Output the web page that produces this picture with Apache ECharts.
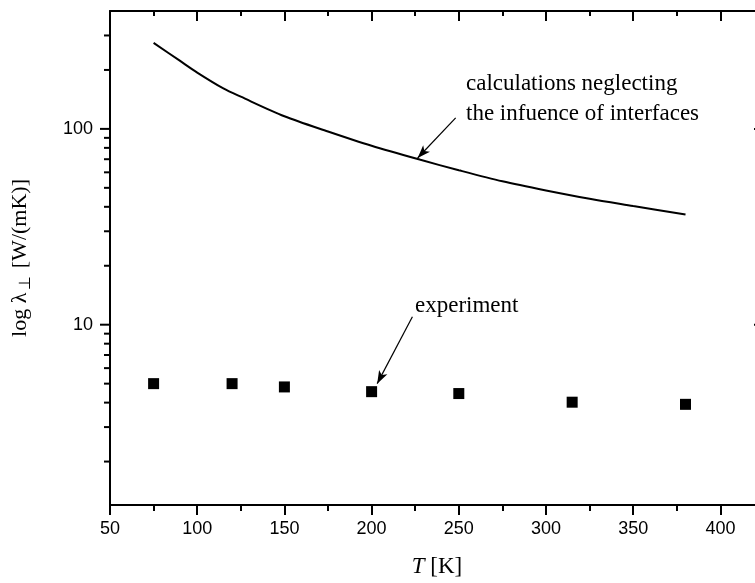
<!DOCTYPE html>
<html>
<head>
<meta charset="utf-8">
<script src="https://cdn.jsdelivr.net/npm/echarts@6/dist/echarts.min.js"></script>
<style>html,body{margin:0;padding:0;background:#fff}#c{width:755px;height:583px}</style>
</head>
<body>
<div id="c"></div>
<script>
// ---- data ----
const calcT   = [75, 90, 100, 115, 125, 150, 175, 200, 228, 250, 275, 300, 325, 350, 380];
const calcVal = [275, 223, 194, 161, 146, 116, 97, 82, 69.5, 61.5, 54, 48.5, 44, 40.4, 36.5];
const expT    = [75, 120, 150, 200, 250, 315, 380];
const expVal  = [5.0, 5.0, 4.81, 4.55, 4.45, 4.02, 3.92];
const xTicks  = [50, 100, 150, 200, 250, 300, 350, 400];
const yMajorTicks = [10, 100];
const yMinorTicks = [2, 3, 4, 5, 6, 7, 8, 9, 20, 30, 40, 50, 60, 70, 80, 90, 200, 300];
const X_MIN = 50, X_MAX = 425, Y_MIN = 1.2, Y_MAX = 400;

const chart = echarts.init(document.getElementById('c'));
const serif = 'Liberation Serif';
const sans = 'Liberation Sans';
const axisLine = {show: true, lineStyle: {color: '#000', width: 2}};

const tickData = yMajorTicks.map(v => [X_MIN, v, 1]).concat(yMinorTicks.map(v => [X_MIN, v, 0]));

chart.setOption({
  animation: false,
  backgroundColor: '#fff',
  grid: {left: 110, width: 654, top: 11, height: 494, show: false, containLabel: false, outerBoundsMode: 'none'},
  xAxis: [{
    type: 'value', min: X_MIN, max: X_MAX, interval: 50, position: 'bottom',
    axisLine: axisLine, splitLine: {show: false},
    axisTick: {show: true, inside: false, length: 10, lineStyle: {color: '#000', width: 2}},
    minorTick: {show: true, splitNumber: 2, length: 6, lineStyle: {color: '#000', width: 2}},
    axisLabel: {color: '#000', fontFamily: sans, fontSize: 18, margin: 15, showMaxLabel: false,
      formatter: v => xTicks.indexOf(v) >= 0 ? String(v) : ''},
    name: '{i|T} [K]', nameLocation: 'middle', nameGap: 50,
    nameTextStyle: {color: '#000', fontFamily: serif, fontSize: 23,
      rich: {i: {fontFamily: serif, fontSize: 23, fontStyle: 'italic', color: '#000'}}}
  }, {
    type: 'value', min: X_MIN, max: X_MAX, interval: 50, position: 'top',
    axisLine: axisLine, splitLine: {show: false},
    axisTick: {show: true, inside: true, length: 10, lineStyle: {color: '#000', width: 2}},
    minorTick: {show: true, splitNumber: 2, length: 5, lineStyle: {color: '#000', width: 2}},
    axisLabel: {show: false}
  }],
  yAxis: [{
    type: 'log', logBase: 10, min: Y_MIN, max: Y_MAX, position: 'left',
    axisLine: axisLine, splitLine: {show: false},
    axisTick: {show: false},
    axisLabel: {color: '#000', fontFamily: sans, fontSize: 18, margin: 17,
      formatter: v => yMajorTicks.indexOf(Math.round(v)) >= 0 && Math.abs(v - Math.round(v)) < 1e-6 ? String(Math.round(v)) : ''},
    name: '{a|log λ}{s|⊥}{a| [W/(mK)]}', nameLocation: 'middle', nameGap: 76,
    nameTextStyle: {color: '#000', fontFamily: serif, fontSize: 22,
      rich: {
        a: {fontFamily: serif, fontSize: 22, color: '#000'},
        s: {fontFamily: serif, fontSize: 16, color: '#000', padding: [11, 2, 0, 3]}
      }}
  }, {
    type: 'log', logBase: 10, min: Y_MIN, max: Y_MAX, position: 'right',
    axisLine: axisLine, splitLine: {show: false},
    axisTick: {show: false}, axisLabel: {show: false}
  }],
  series: [{
    type: 'line', xAxisIndex: 0, yAxisIndex: 0,
    data: calcT.map((t, i) => [t, calcVal[i]]),
    smooth: 0.3, showSymbol: false, symbol: 'none',
    lineStyle: {color: '#000', width: 2}, z: 3,
    markLine: {
      silent: true, symbol: ['none', 'arrow'], symbolSize: [7, 13],
      lineStyle: {color: '#000', width: 1.2, type: 'solid'}, label: {show: false},
      data: [
        [{coord: [248.2, 113.8]}, {coord: [226.4, 71]}],
        [{coord: [223.4, 10.99]}, {coord: [203.2, 5.0]}]
      ]
    }
  }, {
    type: 'scatter', xAxisIndex: 0, yAxisIndex: 0,
    data: expT.map((t, i) => [t, expVal[i]]),
    symbol: 'rect', symbolSize: 11, itemStyle: {color: '#000', opacity: 1}, z: 4
  }, {
    type: 'custom', xAxisIndex: 0, yAxisIndex: 0, clip: false, silent: true,
    encode: {x: 0, y: 1},
    data: tickData,
    renderItem: function (params, api) {
      const v = api.value(1), major = api.value(2);
      const pL = api.coord([X_MIN, v]);
      const pR = api.coord([X_MAX, v]);
      const lenL = major ? 10 : 6, lenR = major ? 10 : 5;
      const st = {stroke: '#000', lineWidth: 2};
      return {type: 'group', children: [
        {type: 'line', shape: {x1: pL[0] - lenL, y1: pL[1], x2: pL[0], y2: pL[1]}, style: st},
        {type: 'line', shape: {x1: pR[0] - lenR, y1: pR[1], x2: pR[0], y2: pR[1]}, style: st}
      ]};
    }
  }],
  graphic: [
    {type: 'text', left: 466, top: 72, style: {text: 'calculations neglecting', font: '23px "Liberation Serif"', fill: '#000'}},
    {type: 'text', left: 466, top: 102, style: {text: 'the infuence of interfaces', font: '23px "Liberation Serif"', fill: '#000'}},
    {type: 'text', left: 415, top: 294, style: {text: 'experiment', font: '23px "Liberation Serif"', fill: '#000'}}
  ]
});
</script>
</body>
</html>
